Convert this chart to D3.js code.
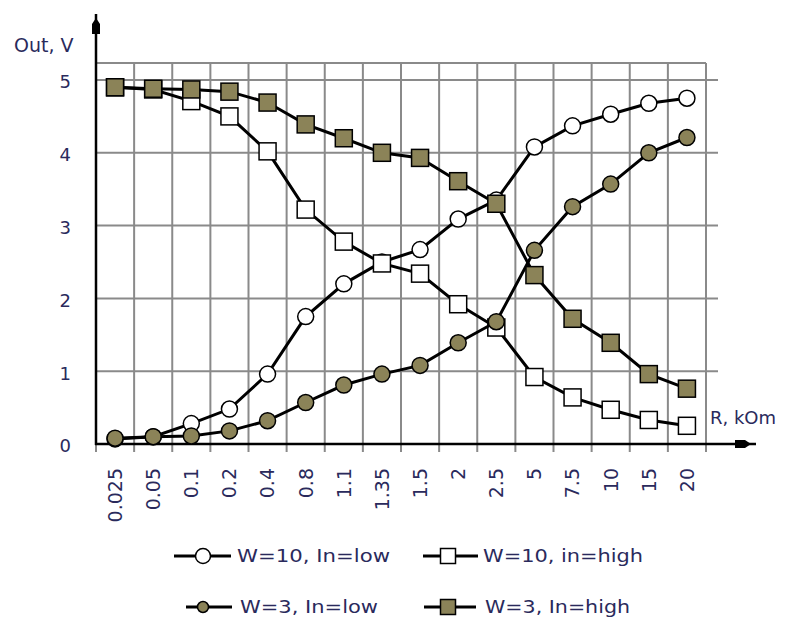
<!DOCTYPE html>
<html>
<head>
<meta charset="utf-8">
<script src="https://cdn.jsdelivr.net/npm/d3@7"></script>
<style>
  html, body { margin: 0; padding: 0; background: #ffffff; }
  svg { display: block; }
  text { font-family: "DejaVu Sans", Verdana, sans-serif; fill: #2a2a5c; }
</style>
</head>
<body>
<svg id="chart" width="789" height="623"></svg>
<script>
// ---- data ----
const categories = ["0.025", "0.05", "0.1", "0.2", "0.4", "0.8", "1.1", "1.35", "1.5", "2", "2.5", "5", "7.5", "10", "15", "20"];
const yTicks = [0, 1, 2, 3, 4, 5];
const w10Low  = [0.07, 0.10, 0.28, 0.48, 0.96, 1.75, 2.20, 2.50, 2.67, 3.09, 3.35, 4.08, 4.37, 4.53, 4.68, 4.75];
const w10High = [4.90, 4.87, 4.71, 4.50, 4.02, 3.22, 2.78, 2.48, 2.34, 1.92, 1.60, 0.92, 0.64, 0.47, 0.33, 0.25];
const w3Low   = [0.08, 0.10, 0.11, 0.18, 0.32, 0.57, 0.81, 0.96, 1.08, 1.39, 1.68, 2.66, 3.26, 3.57, 4.00, 4.21];
const w3High  = [4.90, 4.88, 4.87, 4.84, 4.69, 4.39, 4.20, 4.00, 3.93, 3.61, 3.30, 2.32, 1.72, 1.39, 0.96, 0.76];
const seriesNames = ["W=10, In=low", "W=10, in=high", "W=3, In=low", "W=3, In=high"];

(function () {
const OLIVE = "#8b8358";
const series = [
  { name: seriesNames[0], values: w10Low,  shape: "circle", fill: "#ffffff" },
  { name: seriesNames[1], values: w10High, shape: "square", fill: "#ffffff" },
  { name: seriesNames[2], values: w3Low,   shape: "circle", fill: OLIVE },
  { name: seriesNames[3], values: w3High,  shape: "square", fill: OLIVE }
];

// ---- layout ----
const svg = d3.select("#chart");
const pLeft = 96, pRight = 706, pTop = 63, pBottom = 444;
const x = d3.scaleBand().domain(categories).range([pLeft, pRight]).padding(0);
const y = d3.scaleLinear().domain([0, 5]).range([pBottom, 80]);
const cx = c => x(c) + x.bandwidth() / 2;

const GRID = "#8a8a8a";

// horizontal grid
svg.append("g").selectAll("line").data(yTicks.filter(v => v > 0)).join("line")
  .attr("x1", pLeft).attr("x2", 718)
  .attr("y1", d => y(d)).attr("y2", d => y(d))
  .attr("stroke", GRID).attr("stroke-width", 2);
// plot top border
svg.append("line").attr("x1", pLeft).attr("x2", pRight).attr("y1", pTop).attr("y2", pTop)
  .attr("stroke", GRID).attr("stroke-width", 2);

// vertical grid + ticks below axis
const bounds = categories.map(c => x(c) + x.bandwidth());
svg.append("g").selectAll("line").data(bounds).join("line")
  .attr("x1", d => d).attr("x2", d => d)
  .attr("y1", pTop).attr("y2", pBottom + 8)
  .attr("stroke", GRID).attr("stroke-width", 2);
svg.append("line").attr("x1", pLeft).attr("x2", pLeft).attr("y1", pBottom).attr("y2", pBottom + 8)
  .attr("stroke", GRID).attr("stroke-width", 2);

// axes
svg.append("line").attr("x1", pLeft).attr("x2", pLeft).attr("y1", 14).attr("y2", pBottom + 1)
  .attr("stroke", "#000").attr("stroke-width", 2.5);
svg.append("path").attr("d", `M${pLeft - 4},34 L${pLeft + 4},34 L${pLeft + 4},24 L${pLeft},18 L${pLeft - 4},24 Z`)
  .attr("fill", "#000");
svg.append("line").attr("x1", pLeft - 1).attr("x2", 756).attr("y1", pBottom).attr("y2", pBottom)
  .attr("stroke", "#000").attr("stroke-width", 2.5);
svg.append("path").attr("d", `M735,${pBottom - 4} L735,${pBottom + 4} L745,${pBottom + 4} L751,${pBottom} L745,${pBottom - 4} Z`)
  .attr("fill", "#000");

// y tick labels
svg.append("g").selectAll("text").data(yTicks).join("text")
  .attr("x", 71).attr("y", d => y(d) + 2)
  .attr("dy", "0.35em")
  .attr("text-anchor", "end")
  .attr("font-size", 18)
  .text(d => d);

// axis titles
svg.append("text").attr("x", 14).attr("y", 52).attr("font-size", 19).text("Out, V");
svg.append("text").attr("x", 710).attr("y", 424).attr("font-size", 18).text("R, kOm");

// x tick labels (rotated)
svg.append("g").selectAll("text").data(categories).join("text")
  .attr("transform", d => `translate(${cx(d)},468) rotate(-90)`)
  .attr("dy", "0.36em")
  .attr("text-anchor", "end")
  .attr("font-size", 19)
  .text(d => d);

// series
const line = d3.line().x((d, i) => cx(categories[i])).y(d => y(d));
function drawMarker(g, shape, fill, px, py, size) {
  if (shape === "circle") {
    g.append("circle").attr("cx", px).attr("cy", py).attr("r", size / 2)
      .attr("fill", fill).attr("stroke", "#000").attr("stroke-width", 1.5);
  } else {
    g.append("rect").attr("x", px - size / 2).attr("y", py - size / 2)
      .attr("width", size).attr("height", size)
      .attr("fill", fill).attr("stroke", "#000").attr("stroke-width", 1.5);
  }
}
series.forEach(s => {
  const g = svg.append("g");
  g.append("path").datum(s.values).attr("d", line)
    .attr("fill", "none").attr("stroke", "#000").attr("stroke-width", 3);
  s.values.forEach((v, i) => drawMarker(g, s.shape, s.fill, cx(categories[i]), y(v), s.shape === "circle" ? 16 : 17));
});

// legend
const legendItems = [
  { s: series[0], lx1: 174, lx2: 231, mx: 203, ly: 556, tx: 237, tw: 153, size: 15 },
  { s: series[1], lx1: 423, lx2: 478, mx: 448, ly: 556, tx: 483, tw: 160, size: 15 },
  { s: series[2], lx1: 186, lx2: 232, mx: 203, ly: 607, tx: 240, tw: 138, size: 11 },
  { s: series[3], lx1: 424, lx2: 476, mx: 448, ly: 607, tx: 485, tw: 145, size: 15 }
];
legendItems.forEach(it => {
  const g = svg.append("g");
  g.append("line").attr("x1", it.lx1).attr("x2", it.lx2).attr("y1", it.ly).attr("y2", it.ly)
    .attr("stroke", "#000").attr("stroke-width", 3);
  drawMarker(g, it.s.shape, it.s.fill, it.mx, it.ly, it.size);
  g.append("text").attr("x", it.tx).attr("y", it.ly).attr("dy", "0.36em")
    .attr("font-size", 18)
    .attr("textLength", it.tw).attr("lengthAdjust", "spacingAndGlyphs")
    .text(it.s.name);
});
})();
</script>
</body>
</html>
